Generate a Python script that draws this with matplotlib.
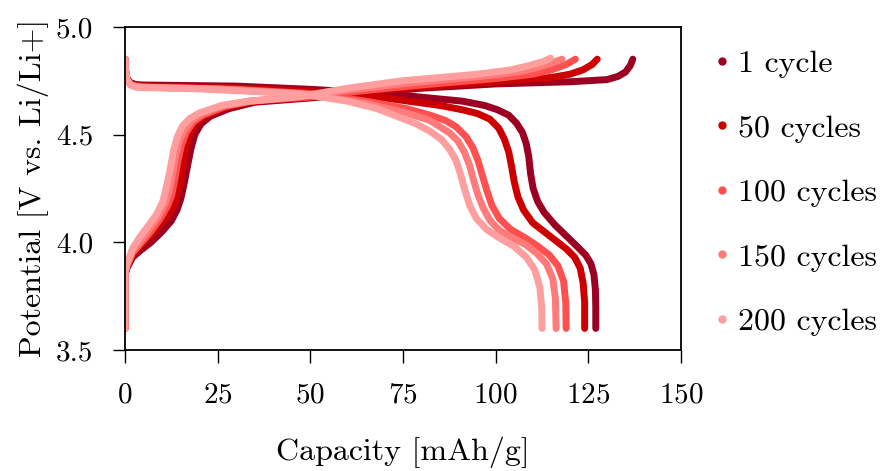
import matplotlib
matplotlib.use("Agg")
import matplotlib.pyplot as plt
import numpy as np

plt.rcParams["font.family"] = ["cmr10", "DejaVu Serif"]
plt.rcParams["axes.formatter.use_mathtext"] = True
plt.rcParams["mathtext.fontset"] = "cm"

labels = ["1 cycle", "50 cycles", "100 cycles", "150 cycles", "200 cycles"]
colors = ["#9B0023", "#CC0000", "#FF5050", "#FF7A7A", "#FF9E9E"]

# charge curves (capacity, potential)
chg_cap_1 = [0, 0, 0.5, 2, 4, 7, 10, 12.5, 14, 15, 15.9, 16.8, 17.7, 18.8, 20.5, 23, 28, 35, 50, 65, 80, 100, 120, 130, 133, 135, 136.3, 137]
chg_v_1 = [3.6, 3.85, 3.88, 3.93, 3.96, 4.0, 4.05, 4.10, 4.15, 4.20, 4.27, 4.35, 4.43, 4.5, 4.55, 4.585, 4.62, 4.65, 4.67, 4.695, 4.715, 4.735, 4.745, 4.755, 4.77, 4.79, 4.82, 4.85]
chg_cap_50 = [0, 0, 0.5, 2, 4, 7, 10, 12.5, 13.8, 14.8, 15.6, 16.4, 17.4, 19, 21.5, 27, 34, 50, 65, 80, 100, 115, 120, 123.5, 126, 127.4]
chg_v_50 = [3.6, 3.85, 3.885, 3.94, 3.98, 4.03, 4.09, 4.15, 4.20, 4.27, 4.35, 4.43, 4.5, 4.55, 4.585, 4.625, 4.652, 4.673, 4.70, 4.72, 4.745, 4.765, 4.78, 4.80, 4.825, 4.85]
chg_cap_100 = [0, 0, 0.5, 2, 4, 7, 9.5, 11.5, 12.6, 13.5, 14.3, 15.2, 16.5, 18.5, 21, 27, 34, 50, 65, 80, 100, 110, 115, 119, 121.5]
chg_v_100 = [3.6, 3.86, 3.89, 3.95, 3.99, 4.05, 4.11, 4.17, 4.22, 4.30, 4.38, 4.45, 4.51, 4.56, 4.59, 4.63, 4.655, 4.675, 4.705, 4.73, 4.76, 4.78, 4.80, 4.825, 4.85]
chg_cap_150 = [0, 0, 0.5, 2, 4, 6.5, 9, 10.8, 11.9, 12.8, 13.6, 14.6, 16, 18, 20.5, 26.5, 33.5, 48, 62, 77, 96, 106, 111, 115.5, 117.9]
chg_v_150 = [3.6, 3.86, 3.895, 3.96, 4.0, 4.06, 4.12, 4.18, 4.24, 4.32, 4.40, 4.47, 4.52, 4.565, 4.595, 4.635, 4.655, 4.677, 4.71, 4.74, 4.77, 4.79, 4.81, 4.835, 4.85]
chg_cap_200 = [0, 0, 0.5, 2, 3.8, 6, 8.5, 10.2, 11.2, 12.2, 13, 14.1, 15.5, 17.5, 20, 26, 33.5, 47, 60, 75, 95, 104, 109, 113, 114.8]
chg_v_200 = [3.6, 3.86, 3.90, 3.97, 4.02, 4.07, 4.13, 4.19, 4.26, 4.34, 4.42, 4.49, 4.54, 4.575, 4.60, 4.635, 4.655, 4.676, 4.715, 4.75, 4.78, 4.80, 4.82, 4.84, 4.855]

# discharge curves (capacity, potential)
dis_cap_1 = [0, 0.1, 0.5, 1.5, 3, 5, 30, 50, 70, 91, 97, 100.5, 103.5, 105.6, 107.2, 108.2, 108.9, 109.4, 110.1, 111.3, 113, 116, 119, 122, 124.3, 125.7, 126.5, 126.9, 127, 127]
dis_v_1 = [4.85, 4.80, 4.76, 4.74, 4.732, 4.73, 4.725, 4.71, 4.69, 4.655, 4.635, 4.615, 4.59, 4.553, 4.51, 4.46, 4.40, 4.32, 4.25, 4.19, 4.14, 4.08, 4.03, 3.98, 3.94, 3.90, 3.85, 3.78, 3.70, 3.6]
dis_cap_50 = [0, 0.1, 0.5, 1.5, 3, 5, 30, 50, 70, 85, 91, 95, 98.4, 100.8, 102.3, 103.5, 104.3, 105, 106, 107.5, 110, 113, 116, 119, 121.3, 122.8, 123.6, 124, 124]
dis_v_50 = [4.85, 4.80, 4.76, 4.737, 4.73, 4.725, 4.715, 4.70, 4.67, 4.635, 4.615, 4.598, 4.572, 4.53, 4.48, 4.42, 4.35, 4.28, 4.21, 4.15, 4.09, 4.05, 4.01, 3.97, 3.93, 3.88, 3.81, 3.72, 3.6]
dis_cap_100 = [0, 0.1, 0.5, 1.5, 3, 5, 30, 50, 65, 76, 82.3, 86.5, 89.4, 92, 93.8, 95.2, 96.4, 97.6, 99, 101, 104, 108, 111.5, 114.5, 116.8, 118.3, 118.9, 119]
dis_v_100 = [4.85, 4.80, 4.755, 4.733, 4.725, 4.72, 4.71, 4.69, 4.655, 4.62, 4.59, 4.565, 4.535, 4.49, 4.44, 4.38, 4.31, 4.24, 4.17, 4.11, 4.06, 4.02, 3.98, 3.94, 3.89, 3.82, 3.72, 3.6]
dis_cap_150 = [0, 0.1, 0.5, 1.5, 3, 5, 25, 50, 65, 76, 82.3, 87.6, 89.8, 91.5, 92.9, 94, 95.2, 96.6, 98.5, 101, 104.5, 108, 111, 113.7, 115.4, 116.1, 116.3]
dis_v_150 = [4.85, 4.80, 4.755, 4.73, 4.722, 4.72, 4.712, 4.685, 4.645, 4.60, 4.565, 4.507, 4.47, 4.42, 4.36, 4.29, 4.22, 4.16, 4.10, 4.055, 4.02, 3.99, 3.95, 3.90, 3.83, 3.74, 3.6]
dis_cap_200 = [0, 0.1, 0.5, 1.5, 3, 5, 20, 47, 60, 68, 73.3, 78.5, 82.3, 85.5, 87.6, 89.3, 90.6, 91.7, 93, 94.8, 97.5, 101, 105, 108.3, 110.6, 111.9, 112.4, 112.5]
dis_v_200 = [4.85, 4.80, 4.755, 4.73, 4.72, 4.718, 4.712, 4.69, 4.655, 4.62, 4.585, 4.55, 4.515, 4.475, 4.43, 4.38, 4.31, 4.24, 4.17, 4.11, 4.06, 4.02, 3.98, 3.93, 3.87, 3.79, 3.70, 3.6]

charge = [(chg_cap_1, chg_v_1), (chg_cap_50, chg_v_50), (chg_cap_100, chg_v_100),
          (chg_cap_150, chg_v_150), (chg_cap_200, chg_v_200)]
discharge = [(dis_cap_1, dis_v_1), (dis_cap_50, dis_v_50), (dis_cap_100, dis_v_100),
             (dis_cap_150, dis_v_150), (dis_cap_200, dis_v_200)]

fs_tick = 21
fs = 23
fig = plt.figure(figsize=(8.81, 4.71), dpi=100)
ax = fig.add_axes([0.142, 0.257, 0.631, 0.686])

for i in range(5):
    c = colors[i]
    ax.plot(charge[i][0], charge[i][1], color=c, lw=5, solid_capstyle="round", solid_joinstyle="round")
    ax.plot(discharge[i][0], discharge[i][1], color=c, lw=5, solid_capstyle="round", solid_joinstyle="round")
    ax.plot([], [], ls="none", marker="o", ms=5, color=c, label=labels[i])

ax.set_xlim(0, 150)
ax.set_ylim(3.5, 5.0)
ax.set_xticks([0, 25, 50, 75, 100, 125, 150])
ax.set_yticks([3.5, 4.0, 4.5, 5.0])
ax.set_yticklabels(["3.5", "4.0", "4.5", "5.0"])
ax.tick_params(direction="out", length=9, width=1.0, labelsize=fs_tick, pad=14)
for s in ax.spines.values():
    s.set_linewidth(1.3)

ax.set_xlabel("Capacity [mAh/g]", fontsize=fs, labelpad=20)
ax.set_ylabel("Potential [V vs. Li/Li+]", fontsize=fs, labelpad=5)

ax.legend(loc="center left", bbox_to_anchor=(1.0, 0.486), frameon=False, fontsize=fs,
          handlelength=0.75, handletextpad=0.12, labelspacing=1.13, borderaxespad=0.5)

fig.savefig("out.png", dpi=100)
